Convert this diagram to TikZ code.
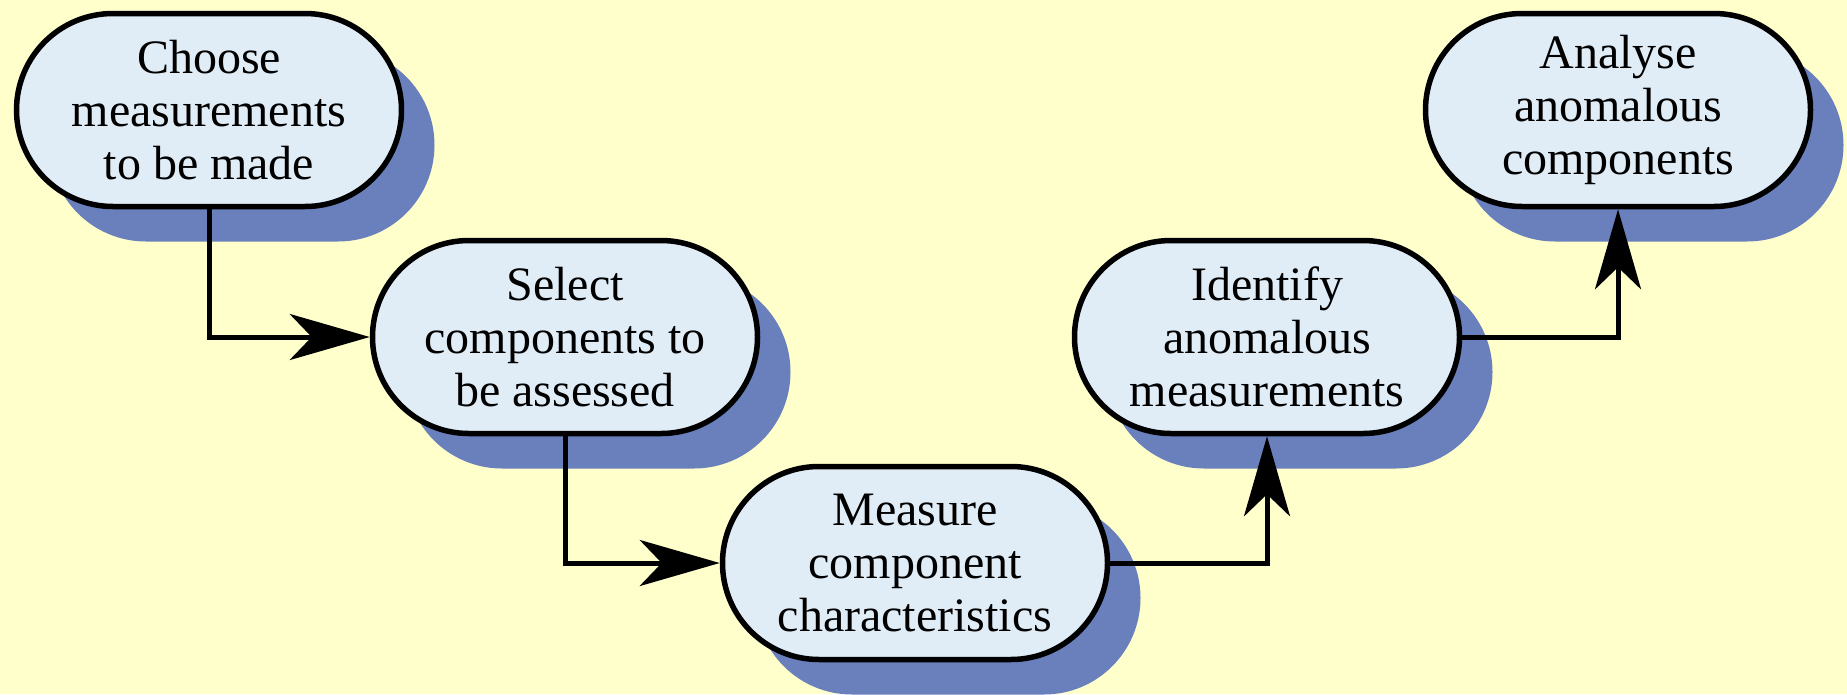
\documentclass[tikz,border=0pt]{standalone}
\usepackage{fontspec}
\setmainfont{Liberation Serif}
\usetikzlibrary{shapes.misc,shadows,arrows.meta}
\definecolor{bg}{RGB}{255,255,204}
\definecolor{boxfill}{RGB}{224,236,246}
\definecolor{shadowcol}{RGB}{106,128,189}
\begin{document}
\begin{tikzpicture}[x=1pt,y=-1pt,
  stepbox/.style={rounded rectangle, draw=black, line width=5.5pt, fill=boxfill,
    minimum width=385pt, minimum height=193pt, inner sep=0pt, align=center,
    font=\fontsize{48}{53}\selectfont,
    drop shadow={shadow xshift=33pt, shadow yshift=-35pt, fill=shadowcol, opacity=1, draw=none}},
  conn/.style={line width=5pt, -{Stealth[length=80pt,width=46pt,inset=22pt]}}]
\fill[bg] (0,0) rectangle (1847,694);
\useasboundingbox (0,0) rectangle (1847,694);
\node[stepbox] (n1) at (209,110) {Choose\\measurements\\to be made};
\node[stepbox] (n2) at (565,337) {Select\\components to\\be assessed};
\node[stepbox] (n3) at (915,563) {Measure\\component\\characteristics};
\node[stepbox] (n4) at (1267,337) {Identify\\anomalous\\measurements};
\node[stepbox] (n5) at (1618,110) {Analyse\\anomalous\\components};
\draw[conn] (n1.south) |- (n2.west);
\draw[conn] (n2.south) |- (n3.west);
\draw[conn] (n3.east) -| (n4.south);
\draw[conn] (n4.east) -| (n5.south);
\end{tikzpicture}
\end{document}
